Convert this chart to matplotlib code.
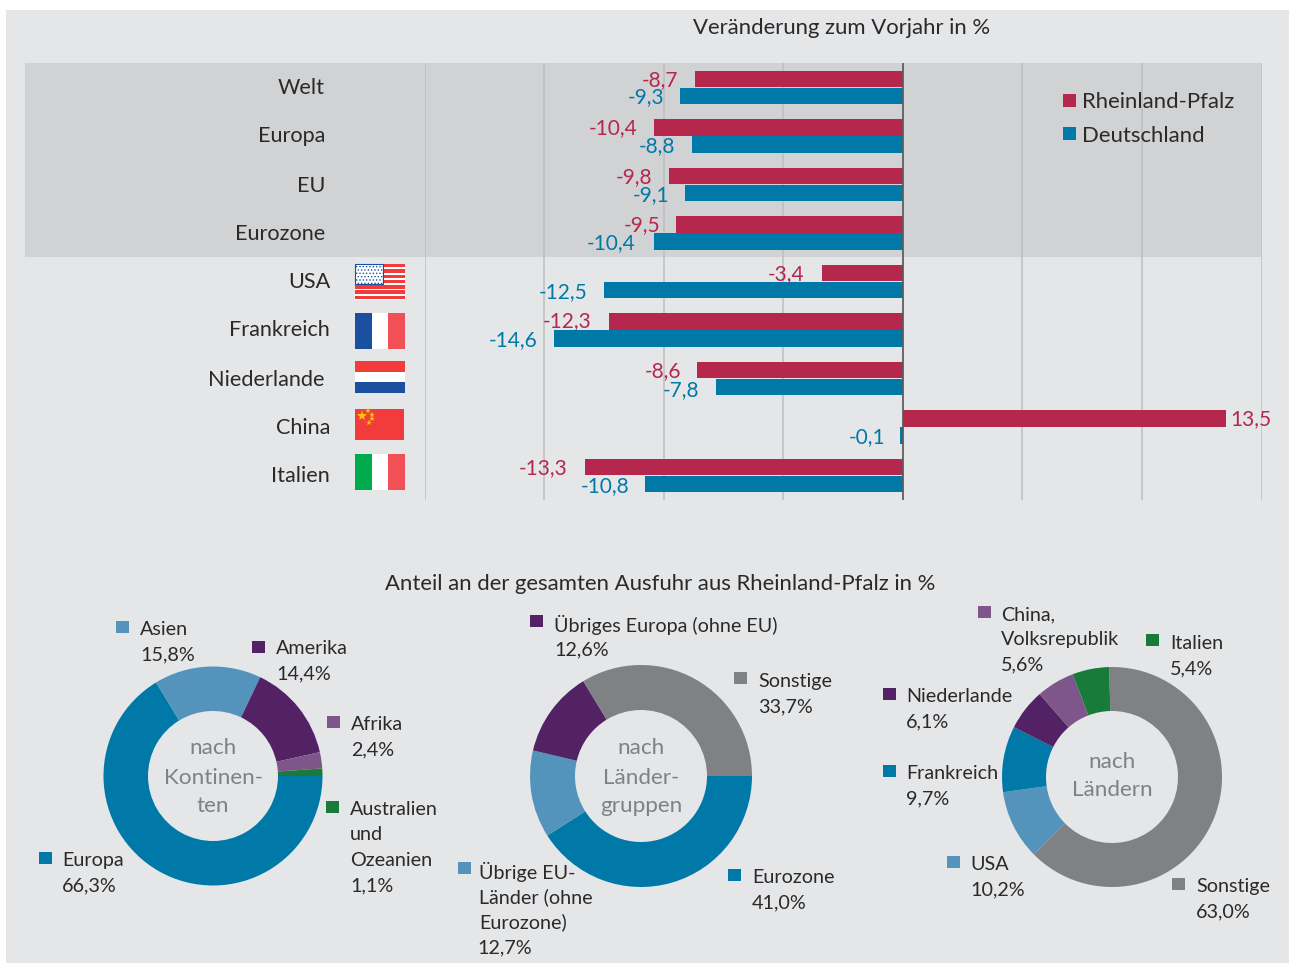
import matplotlib
matplotlib.use("Agg")
import matplotlib.pyplot as plt
from matplotlib.patches import Rectangle

plt.rcParams['font.family'] = ['Lato', 'DejaVu Sans']
plt.rcParams['hatch.linewidth'] = 0.6

W, H = 1289, 963
RED = '#B5274C'
BLUE = '#0079A8'
LBLUE = '#5494BC'
PURPLE = '#532265'
LPURPLE = '#7E5689'
GREEN = '#197B3A'
GREY = '#808184'
BG = '#E5E6E8'
BAND = '#D1D2D4'
GRID = '#BDBEC0'
TEXT = '#2B2A29'
FS_TITLE = 15.9
FS_REGION = 15.6
FS_VALUE = 15
FS_DONUT = 14.2
FS_CENTER = 16.2

# data
regions = ['Welt', 'Europa', 'EU', 'Eurozone', 'USA', 'Frankreich', 'Niederlande', 'China', 'Italien']
rlp = [-8.7, -10.4, -9.8, -9.5, -3.4, -12.3, -8.6, 13.5, -13.3]
de = [-9.3, -8.8, -9.1, -10.4, -12.5, -14.6, -7.8, -0.1, -10.8]

cont_names = ['Europa', 'Asien', 'Amerika', 'Afrika', 'Australien\nund\nOzeanien']
cont_vals = [66.3, 15.8, 14.4, 2.4, 1.1]
group_names = ['Eurozone', 'Übrige EU-\nLänder (ohne\nEurozone)', 'Übriges Europa (ohne EU)', 'Sonstige']
group_vals = [41.0, 12.7, 12.6, 33.7]
land_names = ['Sonstige', 'USA', 'Frankreich', 'Niederlande', 'China,\nVolksrepublik', 'Italien']
land_vals = [63.0, 10.2, 9.7, 6.1, 5.6, 5.4]

# layout in pixels, separate from the values
region_right = [325, 325, 325, 325, 330, 330, 325, 330, 330]
region_y = [87, 135, 184, 232, 281, 329, 378, 426, 474]
rlp_right = [678, 638, 652, 660, 804, 591, 681, 1271, 568]
rlp_y = [79, 127, 176, 224, 273, 320, 370, 418, 467]
de_right = [664, 675, 669, 636, 587, 538, 699, 885, 629]
de_y = [96, 145, 194, 242, 291, 339, 389, 436, 485]


def fmt(v):
    return f'{v:.1f}'.replace('.', ',')


def axes_px(x0, y0, x1, y1, **kw):
    return fig.add_axes([x0 / W, 1 - y1 / H, (x1 - x0) / W, (y1 - y0) / H], **kw)


fig = plt.figure(figsize=(W / 100, H / 100), dpi=100, facecolor='white')

bg = axes_px(0, 0, W, H, zorder=0)
bg.set_xlim(0, W)
bg.set_ylim(H, 0)
bg.axis('off')
bg.add_patch(Rectangle((6, 10), W - 6, H - 10, color=BG, lw=0))
bg.add_patch(Rectangle((25, 63), 1236, 194, color=BAND, lw=0))

# bars
ax = axes_px(424.6, 63, 1261.6, 500, zorder=1)
ax.patch.set_alpha(0)
ax.set_xlim(-20, 15)
ax.set_ylim(8.5, -0.505)
for s in ax.spines.values():
    s.set_visible(False)
ax.set_xticks(range(-20, 16, 5))
ax.set_yticks([])
ax.tick_params(length=0, labelbottom=False)
ax.grid(axis='x', color=GRID, lw=1.1)
ax.set_axisbelow(True)
ypos = list(range(len(regions)))
ax.barh([y - 0.175 for y in ypos], rlp, height=0.34, color=RED, zorder=2)
ax.barh([y + 0.175 for y in ypos], de, height=0.34, color=BLUE, zorder=2)
ax.axvline(0, color='#58595B', lw=1.2, zorder=3)

# everything else in pixel coordinates
ov = axes_px(0, 0, W, H, zorder=5)
ov.patch.set_alpha(0)
ov.set_xlim(0, W)
ov.set_ylim(H, 0)
ov.axis('off')


def txt(x, y, s, size, color=TEXT, ha='left'):
    ov.text(x, y + 1.5, s, color=color, ha=ha, va='center', fontsize=size)


txt(842, 26, 'Veränderung zum Vorjahr in %', FS_TITLE, ha='center')
txt(660, 583, 'Anteil an der gesamten Ausfuhr aus Rheinland-Pfalz in %', FS_TITLE, ha='center')

for i, name in enumerate(regions):
    txt(region_right[i], region_y[i], name, FS_REGION, ha='right')
    txt(rlp_right[i], rlp_y[i], fmt(rlp[i]), FS_VALUE, color=RED, ha='right')
    txt(de_right[i], de_y[i], fmt(de[i]), FS_VALUE, color=BLUE, ha='right')

# legend
for y, c, name in [(101, RED, 'Rheinland-Pfalz'), (134, BLUE, 'Deutschland')]:
    ov.add_patch(Rectangle((1063, y - 6.5), 13, 13, color=c, lw=0))
    txt(1082, y, name, FS_TITLE)

# flags
FR = '#F24F57'
FB = '#1B4FA0'
FR2 = '#F23B3B'
ov.add_patch(Rectangle((355, 264), 50, 36, color='white', lw=0))
for k in range(7):
    ov.add_patch(Rectangle((355, 264 + k * 5.3), 50, 3.4, color=FR2, lw=0))
ov.add_patch(Rectangle((355, 264), 28, 20, facecolor='#FFFFFF', edgecolor=FB, hatch='.....', lw=0.8))
for y0, y1, cols in [(313, 349, [FB, 'white', FR]), (454, 490, ['#00AB4E', 'white', FR])]:
    for k, c in enumerate(cols):
        ov.add_patch(Rectangle((355 + k * 16.7, y0), 16.7, y1 - y0, color=c, lw=0))
for k, c in enumerate([FR2, 'white', FB]):
    ov.add_patch(Rectangle((355, 361 + k * 10.7), 50, 10.7, color=c, lw=0))
ov.add_patch(Rectangle((355, 409), 49, 31, color=FR2, lw=0))
ov.plot([362], [416], marker='*', ms=8, mew=0, color='#FFC20E', lw=0)
ov.plot([368, 372, 372, 369], [411, 415, 419, 423], marker='*', ms=4, mew=0, color='#FFC20E', lw=0)


def donut(cx, cy, r, inner, vals, colors, start):
    a = axes_px(cx - r, cy - r, cx + r, cy + r, zorder=2)
    a.pie(vals, colors=colors, startangle=start, counterclock=False, radius=1,
          wedgeprops={'width': 1 - inner / r, 'linewidth': 0})
    a.set_xlim(-1, 1)
    a.set_ylim(-1, 1)
    a.patch.set_alpha(0)


def labels(names, vals, colors, pos):
    for name, v, c, (sx, sy, tx, ty) in zip(names, vals, colors, pos):
        ov.add_patch(Rectangle((sx, sy - 6), 12.5, 12.5, color=c, lw=0))
        lines = name.split('\n')
        for k, line in enumerate(lines):
            txt(tx, ty + k * 25.3, line, FS_DONUT)
        # the last value of the second chart sits slightly to the left
        vx = tx - 2 if name.startswith('Übrige EU') else tx
        txt(vx, ty + len(lines) * 25.3, fmt(v) + '%', FS_DONUT)


cont_cols = [BLUE, LBLUE, PURPLE, LPURPLE, GREEN]
group_cols = [BLUE, LBLUE, PURPLE, GREY]
land_cols = [GREY, LBLUE, BLUE, PURPLE, LPURPLE, GREEN]

donut(213, 776, 109.5, 65, cont_vals, cont_cols, 0)
donut(641, 776, 111, 66, group_vals, group_cols, 0)
donut(1112, 777, 110, 66, land_vals, land_cols, 91.5)

labels(cont_names, cont_vals, cont_cols,
       [(39, 858, 62, 859), (116, 627, 140, 628), (252, 647, 276, 647), (327, 722, 351, 723), (326, 807, 350, 808)])
labels(group_names, group_vals, group_cols,
       [(728, 875, 752, 876), (458, 868, 479, 870), (530, 621, 554, 623), (734, 678, 758, 680)])
labels(land_names, land_vals, land_cols,
       [(1172, 884, 1196, 885), (947, 862, 970, 863), (883, 771, 906, 772), (883, 694, 906, 695),
        (978, 612, 1001, 613), (1146, 640, 1170, 642)])

for cx, ys, lines in [(213, [747, 776, 804], ['nach', 'Kontinen-', 'ten']),
                      (641, [747, 776, 805], ['nach', 'Länder-', 'gruppen']),
                      (1112, [760, 788], ['nach', 'Ländern'])]:
    for y, line in zip(ys, lines):
        txt(cx, y, line, FS_CENTER, color=GREY, ha='center')

fig.savefig('out.png', dpi=100)
